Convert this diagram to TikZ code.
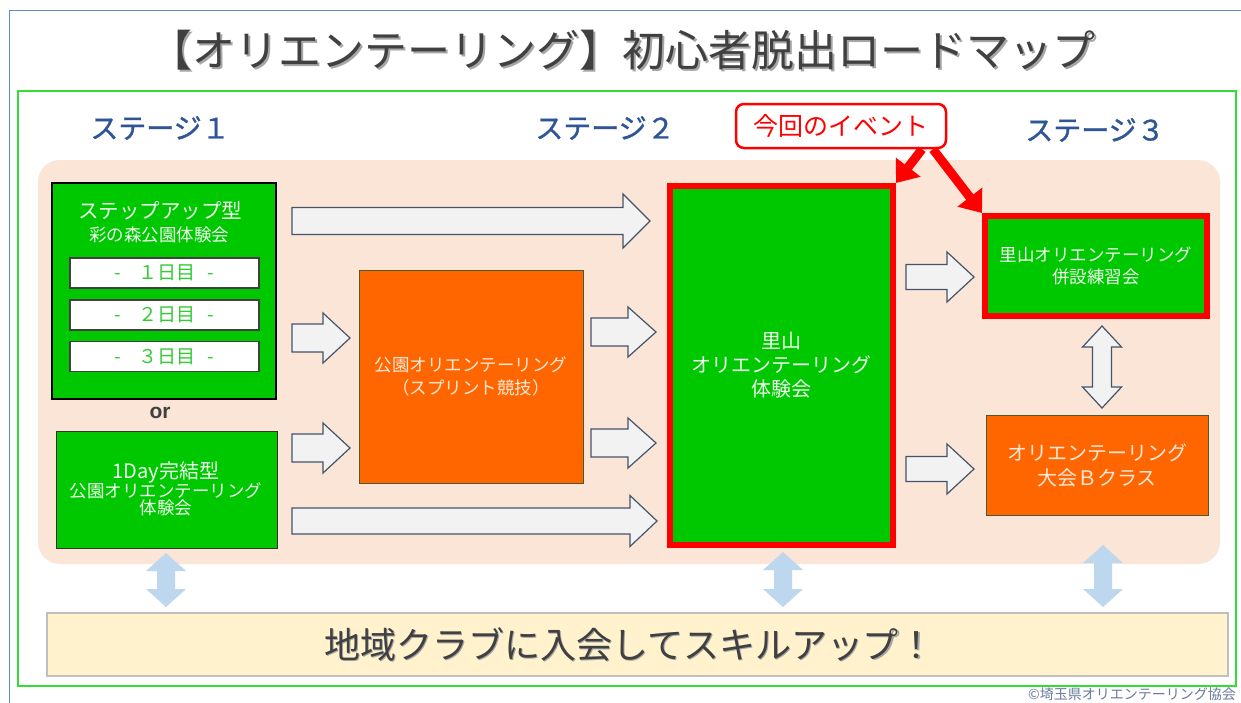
\documentclass[tikz,border=0pt]{standalone}
\usepackage{fontspec}
\setmainfont{Noto Sans CJK JP}
\newfontfamily\latinsans{Liberation Sans}
\newfontfamily\stagefont{Noto Sans CJK JP}[FakeBold=1.2]
\usetikzlibrary{arrows.meta}
\definecolor{bgpeach}{HTML}{FBE5D6}
\definecolor{grn}{HTML}{00C800}
\definecolor{org}{HTML}{FF6600}
\definecolor{stageblue}{HTML}{2F5597}
\definecolor{arrowfill}{HTML}{F2F2F2}
\definecolor{arrowline}{HTML}{44546A}
\definecolor{lblue}{HTML}{BDD7EE}
\definecolor{cream}{HTML}{FFF2CC}
\definecolor{framegreen}{HTML}{33DD33}
\definecolor{frameblue}{HTML}{5B8BD0}
\definecolor{titlegray}{HTML}{404040}
\definecolor{daytext}{HTML}{33CC33}
\definecolor{greentext}{HTML}{EEFFEE}
\definecolor{orangetext}{HTML}{FFE8D8}
\definecolor{orgborder}{HTML}{4A5A2A}
\definecolor{copytext}{HTML}{6A7A9A}
\newcommand\blkarrow[6]{%
  \draw[blockarr] (#1,#3-#4) -- (#2-#6,#3-#4) -- (#2-#6,#3-#5) -- (#2,#3)
    -- (#2-#6,#3+#5) -- (#2-#6,#3+#4) -- (#1,#3+#4) -- cycle;}
\newcommand\vdblarrow[7]{% x, ytop, ybottom, shafthalf, headhalf, headlen, style
  \path[#7] (#1,#2) -- (#1+#5,#2+#6) -- (#1+#4,#2+#6) -- (#1+#4,#3-#6)
    -- (#1+#5,#3-#6) -- (#1,#3) -- (#1-#5,#3-#6) -- (#1-#4,#3-#6)
    -- (#1-#4,#2+#6) -- (#1-#5,#2+#6) -- cycle;}
\newcommand\daylabel[1]{-\hspace{17pt}#1日目\hspace{12pt}-}
\tikzset{
  blockarr/.style={draw=arrowline, fill=arrowfill, line width=1.2pt, line join=miter},
  gbox/.style={rectangle, fill=grn, inner sep=0pt, align=center, text=greentext},
  obox/.style={rectangle, fill=org, draw=orgborder, line width=0.8pt, inner sep=0pt, align=center, text=orangetext},
  redframe/.style={draw=red, line width=6pt},
  daybox/.style={rectangle, fill=white, draw=black!75, line width=1.2pt, minimum width=189pt, minimum height=30pt, inner sep=0pt, text=daytext, font=\fontsize{19}{20}\selectfont},
  stagelbl/.style={text=stageblue, font=\stagefont\fontsize{28}{30}\selectfont, inner sep=0pt},
  redarrow/.style={draw=red, line width=9pt, -{Triangle[width=30pt,length=20pt]}},
}
\begin{document}
\begin{tikzpicture}[x=1pt,y=-1pt]
\useasboundingbox (0,0) rectangle (1241,702);
\fill[white] (0,0) rectangle (1241,702);
% frames
\draw[frameblue, line width=1.5pt] (9.5,712) -- (9.5,10.5) -- (1250,10.5);
\draw[framegreen, line width=1.5pt] (18,91) rectangle (1236,686);
% title
\node[text=black!35, font=\fontsize{43}{45}\selectfont, inner sep=0pt] at (624,52) {【オリエンテーリング】初心者脱出ロードマップ};
\node (title) [text=titlegray, font=\fontsize{43}{45}\selectfont, inner sep=0pt] at (622,50) {【オリエンテーリング】初心者脱出ロードマップ};
% stage labels
\node (st1) [stagelbl] at (160,128) {ステージ１};
\node (st2) [stagelbl] at (605,128) {ステージ２};
\node (st3) [stagelbl] at (1095,130) {ステージ３};
% peach background
\fill[bgpeach, rounded corners=22pt] (38,160) rectangle (1220,564);
% stage 1
\node (step) [gbox, draw=black, line width=1.2pt, minimum width=224pt, minimum height=216pt] at (164,291) {};
\node (steptitle) [text=greentext, font=\fontsize{20.5}{22}\selectfont, inner sep=0pt] at (160,211) {ステップアップ型};
\node (stepsub) [text=greentext, font=\fontsize{17.5}{19}\selectfont, inner sep=0pt] at (159,235) {彩の森公園体験会};
\node (d1) [daybox] at (164.5,273) {\daylabel{１}};
\node (d2) [daybox] at (164.5,315) {\daylabel{２}};
\node (d3) [daybox] at (164.5,356.5) {\daylabel{３}};
\node (or) [text=titlegray, font=\latinsans\bfseries\fontsize{21}{22}\selectfont, inner sep=0pt] at (160,413) {or};
\node (oneday) [gbox, draw=black!80, line width=1pt, minimum width=221pt, minimum height=117pt] at (166.5,489.5) {};
\node[text=greentext, align=center, inner sep=0pt] at (166,489) {{\fontsize{20}{23}\selectfont 1Day完結型}\\[-1pt]{\fontsize{17.5}{22}\selectfont 公園オリエンテーリング}\\{\fontsize{17.5}{22}\selectfont 体験会}};
% orange sprint box
\node (sprint) [obox, minimum width=224pt, minimum height=213pt, font=\fontsize{17.5}{23}\selectfont] at (471,376.5) {公園オリエンテーリング\\（スプリント競技）};
% main green box
\node (main) [gbox, redframe, minimum width=223pt, minimum height=359pt, font=\fontsize{20}{24}\selectfont] at (781.5,365.5) {里山\\オリエンテーリング\\体験会};
% stage 3 boxes
\node (prac) [gbox, redframe, minimum width=222pt, minimum height=100pt, font=\fontsize{17.5}{22}\selectfont] at (1096,266) {里山オリエンテーリング\\併設練習会};
\node (bclass) [obox, minimum width=222pt, minimum height=100pt, font=\fontsize{20}{25}\selectfont] at (1097,465) {オリエンテーリング\\大会Ｂクラス};
% block arrows
\blkarrow{292}{650}{221}{13.5}{27}{27}
\blkarrow{292}{350}{338}{14}{25}{27}
\blkarrow{292}{350}{448}{14}{25}{27}
\blkarrow{591}{656}{332}{14}{25}{28}
\blkarrow{591}{656}{443}{14}{25}{28}
\blkarrow{292}{657}{521}{13}{25.5}{27}
\blkarrow{906}{974}{277}{12.5}{25}{27}
\blkarrow{906}{974}{469}{12.5}{25}{27}
\vdblarrow{1102}{326}{408}{9.5}{19.5}{21}{blockarr}
% event label
\node (ev) [draw=red, line width=2.5pt, fill=white, rounded corners=8pt, minimum width=210pt, minimum height=44pt, inner sep=0pt, text=red, font=\fontsize{25}{27}\selectfont] at (841,126) {今回のイベント};
\draw[redarrow] ([xshift=81pt]ev.south) -- (main.north east);
\draw[redarrow] ([xshift=92pt]ev.south) -- (prac.north west);
% light blue double arrows
\vdblarrow{166}{553}{607}{9}{20}{18}{fill=lblue}
\vdblarrow{783}{552}{607}{9}{20}{18}{fill=lblue}
\vdblarrow{1103}{545}{607}{9}{20}{18}{fill=lblue}
% bottom box
\node (club) [draw=black!25, line width=1.5pt, fill=cream, minimum width=1181pt, minimum height=63pt, inner sep=0pt] at (637.5,644.5) {};
\node[text=black!35, font=\fontsize{36}{38}\selectfont, inner sep=0pt] at (631,646) {地域クラブに入会してスキルアップ！};
\node[text=titlegray, font=\fontsize{36}{38}\selectfont, inner sep=0pt] at (629.5,644.5) {地域クラブに入会してスキルアップ！};
% copyright
\node (copy) [text=copytext, font=\fontsize{14}{15}\selectfont, inner sep=0pt, anchor=east] at (1236,694) {©埼玉県オリエンテーリング協会};
\end{tikzpicture}
\end{document}
